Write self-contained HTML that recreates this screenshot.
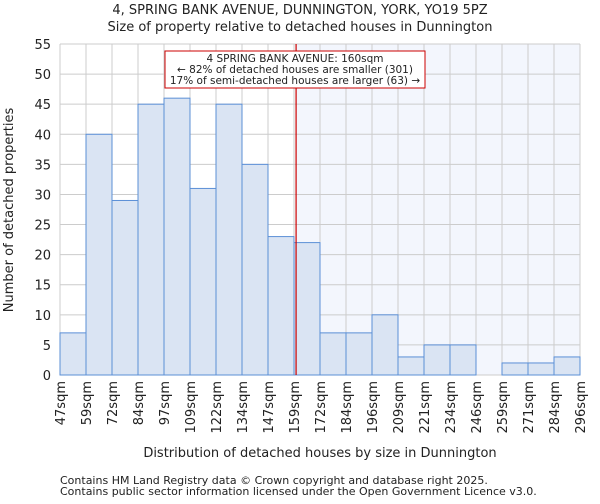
<!DOCTYPE html>
<html><head><meta charset="utf-8"><style>
body{margin:0;background:#fff;font-family:"DejaVu Sans","Liberation Sans",sans-serif;}
svg text{font-family:"DejaVu Sans","Liberation Sans",sans-serif;fill:#222;}
</style></head><body>
<svg id="chart" width="600" height="500"></svg>
<script>
const categories=["47sqm","59sqm","72sqm","84sqm","97sqm","109sqm","122sqm","134sqm","147sqm","159sqm","172sqm","184sqm","196sqm","209sqm","221sqm","234sqm","246sqm","259sqm","271sqm","284sqm","296sqm"];
const counts=[7,40,29,45,46,31,45,35,23,22,7,7,10,3,5,5,0,2,2,3];
const yTicks=[0,5,10,15,20,25,30,35,40,45,50,55];
const markerBin=9.08;
const svg=document.getElementById('chart');
const NS='http://www.w3.org/2000/svg';
const L=60,R=580,T=44,B=375,yMax=55;
const bw=(R-L)/counts.length;
const x=i=>L+i*bw;
const y=v=>B-(v/yMax)*(B-T);
function el(t,a,p){const e=document.createElementNS(NS,t);for(const k in a)e.setAttribute(k,a[k]);(p||svg).appendChild(e);return e;}
function txt(s,a){const e=el('text',a);e.textContent=s;return e;}
const mx=x(markerBin);
let e=el('rect',{x:mx,y:T,width:R-mx,height:B-T,fill:'#f3f6fd'});


for(const v of yTicks){e=el('line',{x1:L,x2:R,y1:y(v),y2:y(v),stroke:'#cccccc','stroke-width':1});


e=txt(v,{x:L-9,y:y(v)+5,'text-anchor':'end','font-size':13});

}
for(let i=0;i<categories.length;i++){e=el('line',{x1:x(i),x2:x(i),y1:T,y2:B,stroke:'#cccccc','stroke-width':1});


e=txt(categories[i],{x:0,y:0,'text-anchor':'end','font-size':13,transform:`translate(${x(i)+5},381) rotate(-90)`});

}
counts.forEach((c,i)=>{if(c<=0)return;e=el('rect',{x:x(i),y:y(c),width:bw,height:B-y(c),fill:'#dae4f3',stroke:'#5b8fd6','stroke-width':1});

});
e=el('line',{x1:mx,x2:mx,y1:T,y2:B,stroke:'#cc0000','stroke-width':1.2});


e=el('rect',{x:165,y:51,width:260,height:37,fill:'#fff',stroke:'#cc0000','stroke-width':1});


[["4 SPRING BANK AVENUE: 160sqm",62],["← 82% of detached houses are smaller (301)",73],["17% of semi-detached houses are larger (63) →",84]].forEach(([s,yy])=>{e=txt(s,{x:295,y:yy,'text-anchor':'middle','font-size':10.5});

});
e=txt("4, SPRING BANK AVENUE, DUNNINGTON, YORK, YO19 5PZ",{x:300,y:14,'text-anchor':'middle','font-size':13});


e=txt("Size of property relative to detached houses in Dunnington",{x:300,y:31,'text-anchor':'middle','font-size':13});


e=txt("Distribution of detached houses by size in Dunnington",{x:320,y:457,'text-anchor':'middle','font-size':13});


e=txt("Number of detached properties",{x:0,y:0,'text-anchor':'middle','font-size':13,transform:'translate(13,210) rotate(-90)'});


e=txt("Contains HM Land Registry data © Crown copyright and database right 2025.",{x:60,y:484,'font-size':11});


e=txt("Contains public sector information licensed under the Open Government Licence v3.0.",{x:60,y:495,'font-size':11});


</script>
</body></html>
